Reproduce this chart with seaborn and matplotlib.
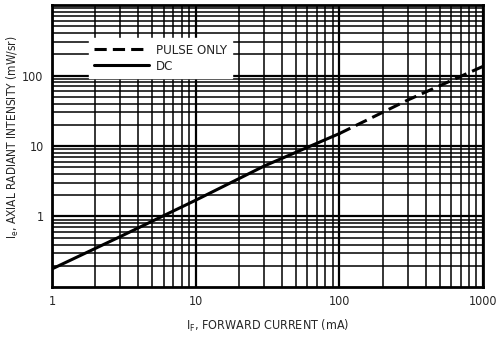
import matplotlib
matplotlib.use("Agg")
import matplotlib.pyplot as plt
import matplotlib.ticker as mticker
import seaborn as sns
import pandas as pd

# Data
dc_current = [1, 3, 10, 30, 100]
dc_intensity = [0.18, 0.52, 1.7, 5.2, 15]
pulse_current = [100, 300, 1000]
pulse_intensity = [15, 45, 135]

x_ticks = [1, 10, 100, 1000]
x_ticklabels = ["1", "10", "100", "1000"]
y_ticks = [1, 10, 100]
y_ticklabels = ["1", "10", "100"]

sns.set_style("white")
plt.rcParams["font.family"] = ["DejaVu Sans"]
plt.rcParams["font.stretch"] = "condensed"
plt.rcParams["mathtext.default"] = "regular"

fig = plt.figure(figsize=(4.99, 3.38), dpi=100)
ax = fig.add_axes([0.104, 0.151, 0.864, 0.834])

dc = pd.DataFrame({"x": dc_current, "y": dc_intensity})
pulse = pd.DataFrame({"x": pulse_current, "y": pulse_intensity})

sns.lineplot(data=pulse, x="x", y="y", ax=ax, color="black", lw=2.2,
             linestyle=(0, (4, 2)), label="PULSE ONLY", zorder=5)
sns.lineplot(data=dc, x="x", y="y", ax=ax, color="black", lw=2.2,
             label="DC", zorder=5)

ax.set_xscale("log")
ax.set_yscale("log")
ax.set_xlim(1, 1000)
ax.set_ylim(0.1, 1000)

ax.xaxis.set_major_locator(mticker.FixedLocator(x_ticks))
ax.xaxis.set_major_formatter(mticker.FixedFormatter(x_ticklabels))
ax.yaxis.set_major_locator(mticker.FixedLocator(y_ticks))
ax.yaxis.set_major_formatter(mticker.FixedFormatter(y_ticklabels))
ax.xaxis.set_minor_locator(mticker.LogLocator(base=10, subs=range(2, 10), numticks=20))
ax.yaxis.set_minor_locator(mticker.LogLocator(base=10, subs=range(2, 10), numticks=20))
ax.xaxis.set_minor_formatter(mticker.NullFormatter())
ax.yaxis.set_minor_formatter(mticker.NullFormatter())

ax.grid(True, which="major", color="black", lw=1.6)
ax.grid(True, which="minor", color="black", lw=1.1)
ax.set_axisbelow(True)
ax.tick_params(which="both", length=0, labelsize=9, pad=6)

for s in ax.spines.values():
    s.set_color("black")
    s.set_linewidth(2)

ax.set_xlabel("I$_F$, FORWARD CURRENT (mA)", fontsize=9)
ax.set_ylabel("I$_e$, AXIAL RADIANT INTENSITY (mW/sr)", fontsize=8.6)
ax.xaxis.set_label_coords(0.5, -0.11)
ax.yaxis.set_label_coords(-0.072, 0.53)

leg = ax.legend(loc="upper left", bbox_to_anchor=(0.07, 0.905), frameon=True,
                fancybox=False, facecolor="white", edgecolor="white", framealpha=1,
                handlelength=4.2, fontsize=9.5, borderpad=0.4, labelspacing=0.25,
                handletextpad=0.5)
leg.set_zorder(10)

fig.savefig("out.png", dpi=100)
